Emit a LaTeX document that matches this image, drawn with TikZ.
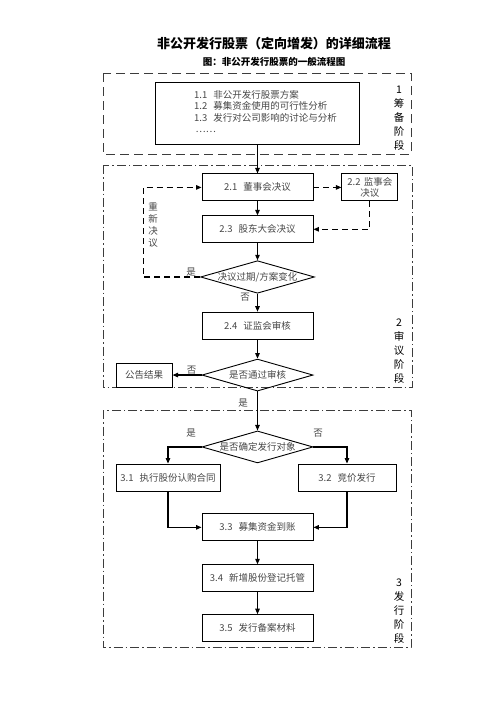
\documentclass[tikz,border=0pt]{standalone}
\usepackage{fontspec}
\setmainfont{Noto Sans CJK SC}
\usetikzlibrary{shapes.geometric, arrows.meta, positioning, calc}
\definecolor{boxtext}{RGB}{70,70,70}
\definecolor{framegray}{RGB}{60,60,60}
\newcommand{\stepno}[1]{#1\hspace{6pt}}
\tikzset{
  stepbox/.style={rectangle, draw=black, line width=0.9pt, text=boxtext,
    minimum width=111pt, minimum height=27pt, inner sep=1pt,
    font=\fontsize{9.5}{11}\selectfont, align=center},
  ask/.style={diamond, draw=black, line width=0.9pt, aspect=3.5, inner sep=0pt,
    minimum width=111pt, minimum height=32pt, text=boxtext,
    font=\fontsize{9.5}{11}\selectfont},
  tag/.style={font=\fontsize{9.5}{12}\selectfont, text=boxtext, inner sep=1pt, align=center},
  phaselabel/.style={font=\fontsize{10.5}{14}\selectfont, align=center, inner sep=0pt},
  arrow/.style={-{Triangle[length=5.5pt,width=4.5pt]}, line width=1.1pt},
  dasharrow/.style={arrow, dash pattern=on 6pt off 4pt},
  phaseone/.style={draw=framegray, line width=0.9pt, dash pattern=on 9pt off 5pt},
  phase/.style={draw=framegray, line width=0.9pt, dash pattern=on 9pt off 3pt on 1.5pt off 3pt}
}
\begin{document}
\begin{tikzpicture}[x=1pt, y=-1pt]
  \useasboundingbox (0,0) rectangle (496,702);
  % titles
  \node[font=\fontsize{13}{15}\selectfont\bfseries] (title) at (274,44) {非公开发行股票（定向增发）的详细流程};
  \node[font=\fontsize{9.5}{11}\selectfont\bfseries] (subtitle) at (274,62) {图：非公开发行股票的一般流程图};
  % phase frames
  \draw[phaseone] (103,73) rectangle (411,154);
  \draw[phase] (103,165) rectangle (412,387);
  \draw[phase] (103,410) rectangle (411,647);
  \node[phaselabel] (p1) at (399,118) {1\\筹\\备\\阶\\段};
  \node[phaselabel] (p2) at (399,351) {2\\审\\议\\阶\\段};
  \node[phaselabel] (p3) at (399,611) {3\\发\\行\\阶\\段};
  % phase 1
  \node[stepbox, minimum width=204pt, minimum height=62pt] (plan) at (257.5,113)
    {\begin{tabular}{@{\hspace{16pt}}l@{}}
      \stepno{1.1}非公开发行股票方案\\
      \stepno{1.2}募集资金使用的可行性分析\\
      \stepno{1.3}发行对公司影响的讨论与分析\\
      \,……
    \end{tabular}};
  % phase 2
  \node[stepbox, below=29pt of plan] (b21) {\stepno{2.1}董事会决议};
  \node[stepbox, right=28pt of b21, minimum width=56pt, text width=54pt] (b22) {2.2 监事会\\决议};
  \node[stepbox, below=14pt of b21] (b23) {\stepno{2.3}股东大会决议};
  \node[ask, below=17pt of b23] (d1) {决议过期/方案变化};
  \node[stepbox, below=18pt of d1] (b24) {\stepno{2.4}证监会审核};
  \node[ask, below=19pt of b24] (d2) {是否通过审核};
  \node[stepbox, left=29pt of d2, minimum width=56pt, minimum height=24pt] (pub) {公告结果};
  \node[tag] (redo) at (153,225) {重\\新\\决\\议};
  \node[tag, above left=0pt and 3pt of d1.west] (yes1) {是};
  \node[tag] (no1) at (245,297) {否};
  \node[tag, above left=0pt and 4pt of d2.west] (no2) {否};
  \node[tag] (yes2) at (243,403) {是};
  % phase 3
  \node[ask, below=39pt of d2] (d3) {是否确定发行对象};
  \node[stepbox, minimum width=104pt] (b31) at (168,477.5) {\stepno{3.1}执行股份认购合同};
  \node[stepbox, minimum width=98pt] (b32) at (347,477.5) {\stepno{3.2}竞价发行};
  \node[stepbox, below=50pt of d3] (b33) {\stepno{3.3}募集资金到账};
  \node[stepbox, below=23pt of b33] (b34) {\stepno{3.4}新增股份登记托管};
  \node[stepbox, below=22pt of b34] (b35) {\stepno{3.5}发行备案材料};
  \node[tag] (yes3) at (191,433) {是};
  \node[tag] (no3) at (318,433) {否};
  % connectors
  \draw[arrow] (plan) -- (b21);
  \draw[arrow] (b21) -- (b23);
  \draw[dasharrow] (b21) -- (b22);
  \draw[dasharrow] (b22.south) |- (b23.east);
  \draw[arrow] (b23) -- (d1);
  \draw[dasharrow] (d1.west) -- ++(-57,0) |- (b21.west);
  \draw[arrow] (d1) -- (b24);
  \draw[arrow] (b24) -- (d2);
  \draw[arrow] (d2) -- (pub);
  \draw[arrow] (d2) -- (d3);
  \draw[arrow] (d3.west) -| (b31.north);
  \draw[arrow] (d3.east) -| (b32.north);
  \draw[arrow] (b31.south) |- (b33.west);
  \draw[arrow] (b32.south) |- (b33.east);
  \draw[arrow] (b33) -- (b34);
  \draw[arrow] (b34) -- (b35);
\end{tikzpicture}
\end{document}
